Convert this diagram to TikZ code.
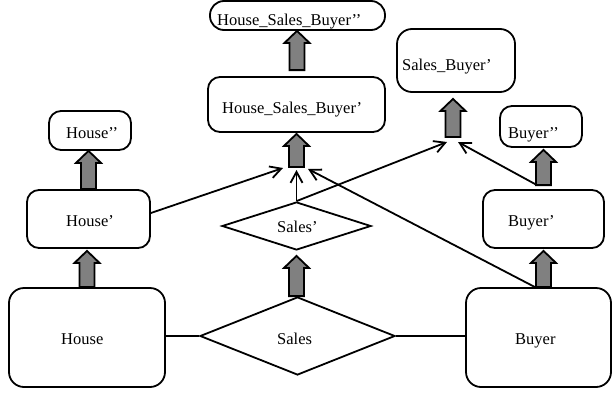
\documentclass[tikz,border=0pt]{standalone}
\usepackage{fontspec}
\setmainfont{Liberation Serif}
\usetikzlibrary{shapes.geometric,arrows.meta,calc}
\newcommand\fatarrow[2]{\draw[fatarr] let \p1=#1, \p2=#2 in
  (\x1-7.5pt,\y1) -- (\x1-7.5pt,\y2-12pt) -- (\x1-12.5pt,\y2-12pt) -- (\x1,\y2)
  -- (\x1+12.5pt,\y2-12pt) -- (\x1+7.5pt,\y2-12pt) -- (\x1+7.5pt,\y1) -- cycle;}
\begin{document}
\begin{tikzpicture}[x=1pt,y=-1pt,
  rbox/.style={draw,line width=1.8pt,inner sep=0pt,rounded corners=#1},
  dbox/.style={draw,diamond,line width=1.8pt,inner sep=0pt},
  lbl/.style={inner sep=0pt,anchor=base west,font=\fontsize{16.5}{19}\selectfont},
  fatarr/.style={draw,line width=1.8pt,fill=gray},
  thin/.style={line width=1.8pt,-{Straight Barb[length=11pt,width=12pt]}}]
\useasboundingbox (0,0) rectangle (613,394);
% boxes
\node[rbox=15pt,minimum width=156pt,minimum height=99pt] (house) at (87,337.5) {};
\node[rbox=15pt,minimum width=145pt,minimum height=99pt] (buyer) at (538.5,337.5) {};
\node[rbox=12pt,minimum width=123pt,minimum height=58pt] (housep) at (88.5,219) {};
\node[rbox=12pt,minimum width=82pt,minimum height=39pt] (housepp) at (90,130.5) {};
\node[rbox=12pt,minimum width=121pt,minimum height=58pt] (buyerp) at (543.5,219) {};
\node[rbox=12pt,minimum width=82pt,minimum height=41pt] (buyerpp) at (541,126.5) {};
\node[rbox=12pt,minimum width=177pt,minimum height=55pt] (hsbp) at (296.5,104.5) {};
\node[rbox=14pt,minimum width=175pt,minimum height=29pt] (hsbpp) at (297.5,15.5) {};
\node[rbox=15pt,minimum width=118pt,minimum height=63pt] (sbp) at (456,60.5) {};
\node[dbox,minimum width=149pt,minimum height=48pt] (salesp) at (296.5,226) {};
\node[dbox,minimum width=195pt,minimum height=78pt] (sales) at (297.5,336) {};
% labels
\node[lbl] (thouse) at (61,344) {House};
\node[lbl] (tsales) at (277,344) {Sales};
\node[lbl] (tbuyer) at (515,344) {Buyer};
\node[lbl] (thousep) at (66,226) {House’};
\node[lbl] (thousepp) at (66,138) {House’’};
\node[lbl] (tsalesp) at (277,232) {Sales’};
\node[lbl] (tbuyerp) at (508,226) {Buyer’};
\node[lbl] (tbuyerpp) at (508,138) {Buyer’’};
\node[lbl] (thsbp) at (222,113) {House\_Sales\_Buyer’};
\node[lbl] (thsbpp) at (217,25) {House\_Sales\_Buyer’’};
\node[lbl] (tsbp) at (402,70) {Sales\_Buyer’};
% plain connectors
\draw[line width=1.8pt] (sales.west) -- (sales.west -| house.east);
\draw[line width=1.8pt] (sales.east) -- (sales.east -| buyer.west);
% named free ends
\coordinate (tipL) at (283,168);
\coordinate (tipR) at (308,169);
\coordinate (tipC) at (296.5,170);
\coordinate (sbL) at (447,142);
\coordinate (sbR) at (458,142);
\coordinate (fa4) at (296.5,167);
\coordinate (fa6) at (453,137);
% fat arrows
\fatarrow{(house.north)}{($(housep.south)+(0,2)$)}
\fatarrow{(housep.north)}{(housepp.south)}
\fatarrow{($(sales.north)+(-1,0)$)}{($(salesp.south)+(0,5)$)}
\fatarrow{(fa4)}{($(hsbp.south)+(0,1)$)}
\fatarrow{($(hsbp.north)+(0.5,-6)$)}{(hsbpp.south)}
\fatarrow{(fa6)}{($(sbp.south)+(-3,6)$)}
\fatarrow{($(buyer.north)+(5,0)$)}{($(buyerp.south)+(0,2)$)}
\fatarrow{($(buyerp.north)+(0,-4)$)}{($(buyerpp.south)+(0,2)$)}
% thin arrows
\draw[thin] ($(housep.east)+(0,-6)$) -- (tipL);
\draw[thin] ($(buyer.north)+(-3.5,0)$) -- (tipR);
\draw[thin] (salesp.north) -- (tipC);
\draw[thin] (salesp.north) -- (sbL);
\draw[thin] ($(buyerp.north)+(-6.5,-4)$) -- (sbR);
\end{tikzpicture}
\end{document}
